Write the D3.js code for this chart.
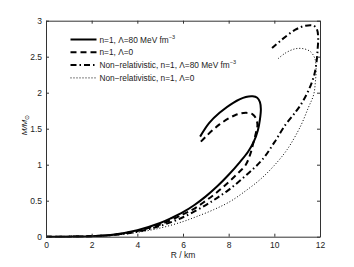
<!DOCTYPE html>
<html><head><meta charset="utf-8">
<script src="https://cdn.jsdelivr.net/npm/d3@7"></script>
<style>
body{margin:0;background:#fff;}
text{font-family:"Liberation Sans",Arial,Helvetica,sans-serif;}
</style></head>
<body><svg id="chart" width="354" height="267"></svg>
<script>
// Data (R in km, M in solar masses)
const solidRel80 = [[0,0],[1,0.001],[2,0.008],[3,0.032],[4,0.09],[5,0.19],[5.5,0.26],[6,0.34],[6.5,0.44],[7,0.56],[7.5,0.7],[8,0.86],[8.5,1.04],[8.85,1.18],[9.1,1.32],[9.28,1.48],[9.37,1.63],[9.41,1.77],[9.37,1.87],[9.25,1.93],[9.05,1.95],[8.75,1.94],[8.2,1.86],[7.6,1.72],[7.15,1.58],[6.75,1.39]];
const dashedRel0 = [[0,0],[1,0.001],[2,0.007],[3,0.028],[4,0.08],[5,0.17],[6,0.31],[6.5,0.39],[7,0.5],[7.5,0.62],[8,0.76],[8.4,0.88],[8.75,1.0],[8.95,1.15],[9.08,1.3],[9.2,1.45],[9.26,1.55],[9.2,1.64],[9.05,1.7],[8.76,1.72],[8.3,1.69],[7.6,1.56],[7.0,1.39],[6.72,1.30]];
const dashDotNR80 = [[0,0],[1,0.001],[2,0.007],[3,0.026],[4,0.07],[5,0.15],[6,0.27],[7,0.44],[7.5,0.54],[8,0.65],[8.5,0.78],[9,0.92],[9.5,1.08],[10,1.31],[10.5,1.56],[10.95,1.74],[11.25,1.88],[11.55,2.07],[11.75,2.25],[11.85,2.43],[11.9,2.62],[11.92,2.76],[11.87,2.875],[11.72,2.93],[11.36,2.93],[10.92,2.875],[10.34,2.74],[9.9,2.62]];
const dottedNR0 = [[0,0],[1,0.001],[2,0.006],[3,0.022],[4,0.06],[5,0.12],[6,0.21],[6.6,0.28],[7.34,0.375],[8.07,0.49],[8.8,0.65],[9.4,0.8],[9.97,0.98],[10.56,1.21],[11.14,1.53],[11.5,1.8],[11.72,1.97],[11.8,2.16],[11.83,2.34],[11.77,2.48],[11.58,2.57],[11.29,2.61],[10.92,2.61],[10.48,2.55],[10.12,2.46]];

const xTicks = [0,2,4,6,8,10,12];
const yTicks = [0,0.5,1,1.5,2,2.5,3];
const legendLabels = ["n=1, \u039B=80 MeV fm", "n=1, \u039B=0", "Non\u2212relativistic, n=1, \u039B=80 MeV fm", "Non\u2212relativistic, n=1, \u039B=0"];
const legendSup = ["\u22123", "", "\u22123", ""];

const svg = d3.select("#chart");
const L = 46, R = 320, T = 20.7, B = 236.7;
const x = d3.scaleLinear().domain([0,12]).range([L,R]);
const y = d3.scaleLinear().domain([0,3]).range([B,T]);

svg.append("rect").attr("width",354).attr("height",267).attr("fill","#fff");

const styles = [
  {w:2, dash:null},
  {w:2, dash:"6,4"},
  {w:2, dash:"6,3,1.5,3"},
  {w:1, dash:"1,2"}
];
const series = [solidRel80, dashedRel0, dashDotNR80, dottedNR0];
const line = d3.line().x(d=>x(d[0])).y(d=>y(d[1])).curve(d3.curveCatmullRom.alpha(0.5));

series.forEach((s,i)=>{
  svg.append("path").attr("d", line(s)).attr("fill","none").attr("stroke","#000")
    .attr("stroke-width", styles[i].w).attr("stroke-dasharray", styles[i].dash);
});

// axes
const ax = "#333";
const gx = svg.append("g").attr("transform",`translate(0,${B})`)
  .call(d3.axisBottom(x).tickValues(xTicks).tickSizeInner(-3).tickSizeOuter(0).tickPadding(5));
const gxt = svg.append("g").attr("transform",`translate(0,${T})`)
  .call(d3.axisTop(x).tickValues(xTicks).tickSizeInner(-3).tickSizeOuter(0).tickFormat(""));
const gy = svg.append("g").attr("transform",`translate(${L},0)`)
  .call(d3.axisLeft(y).tickValues(yTicks).tickSizeInner(-3).tickSizeOuter(0).tickPadding(4).tickFormat(d3.format("~g")));
const gyr = svg.append("g").attr("transform",`translate(${R},0)`)
  .call(d3.axisRight(y).tickValues(yTicks).tickSizeInner(-3).tickSizeOuter(0).tickFormat(""));
[gx,gxt,gy,gyr].forEach(g=>{
  g.select(".domain").attr("stroke",ax).attr("stroke-width",1);
  g.selectAll(".tick line").attr("stroke",ax);
  g.selectAll("text").attr("font-size","8.5px").attr("fill","#222").attr("font-family","Liberation Sans, Arial, sans-serif");
});

// axis labels
svg.append("text").attr("x",(L+R)/2).attr("y",258).attr("text-anchor","middle")
  .attr("font-size","8.5px").attr("fill","#222").text("R / km");
const yl = svg.append("text").attr("transform",`translate(27,125) rotate(-90)`)
  .attr("text-anchor","middle").attr("font-size","8px").attr("fill","#222")
  .attr("font-family","Liberation Serif, DejaVu Serif, serif").attr("font-style","italic");
yl.append("tspan").text("M/M");
yl.append("tspan").attr("font-size","6px").attr("font-style","normal").attr("dy","1.5").text("\u2299");

// legend
const lx0 = 70.5, lx1 = 96.5, ly0 = 39.5, ldy = 12.8;
legendLabels.forEach((lab,i)=>{
  const yy = ly0 + i*ldy;
  svg.append("line").attr("x1",lx0).attr("x2",lx1).attr("y1",yy).attr("y2",yy)
    .attr("stroke","#000").attr("stroke-width",styles[i].w).attr("stroke-dasharray",styles[i].dash);
  const t = svg.append("text").attr("x",lx1+3).attr("y",yy+3).attr("font-size","8.3px").attr("fill","#222");
  t.append("tspan").text(lab);
  if(legendSup[i]) t.append("tspan").attr("font-size","5.5px").attr("dy","-4").text(legendSup[i]);
});
</script></body></html>
